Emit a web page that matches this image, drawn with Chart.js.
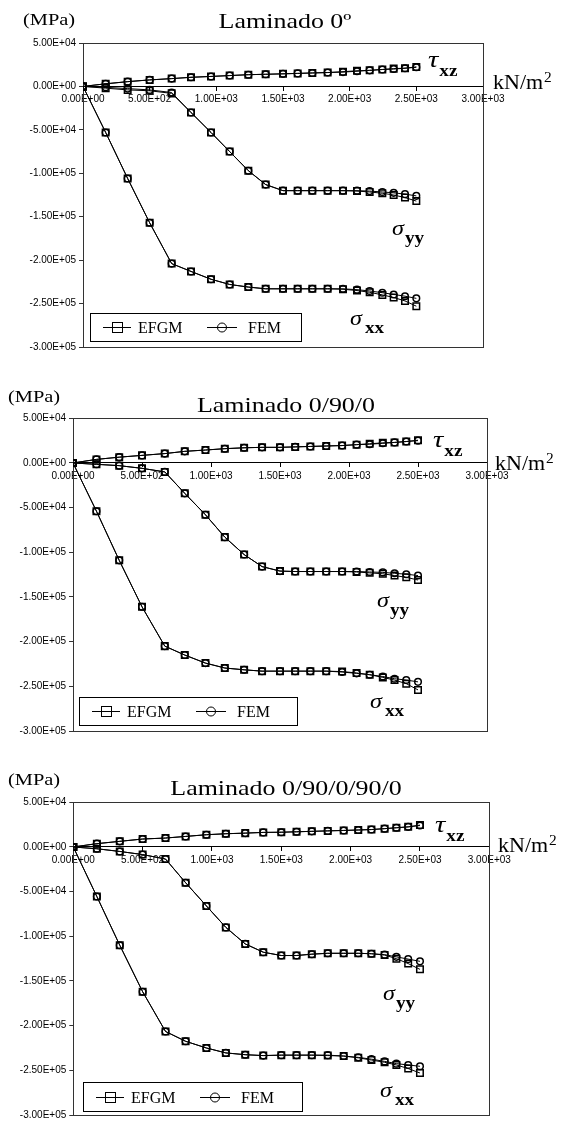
<!DOCTYPE html>
<html>
<head>
<meta charset="utf-8">
<script src="https://cdn.jsdelivr.net/npm/chart.js@4.4.0/dist/chart.umd.min.js"></script>
<style>
    body { margin: 0; background: #fff; }
    canvas { position: absolute; left: 0; }
</style>
</head>
<body>
<canvas id="c1" width="561" height="357" style="top:0px"></canvas>
<canvas id="c2" width="561" height="383" style="top:357px"></canvas>
<canvas id="c3" width="561" height="384" style="top:740px"></canvas>
<script>
// --- Data ---

// applied load (kN/m2), same steps for the three laminates
const loadSteps = [0, 170, 335, 500, 665, 810, 960, 1100, 1240, 1370, 1500, 1610, 1720, 1835, 1950, 2055, 2150, 2245, 2330, 2415, 2500];

const xTickLabels = ['0.00E+00', '5.00E+02', '1.00E+03', '1.50E+03', '2.00E+03', '2.50E+03', '3.00E+03'];
const yTickLabels = ['-3.00E+05', '-2.50E+05', '-2.00E+05', '-1.50E+05', '-1.00E+05', '-5.00E+04', '0.00E+00', '5.00E+04'];

const chartTitles = ['Laminado 0º', 'Laminado 0/90/0', 'Laminado 0/90/0/90/0'];
const legendLabels = ['EFGM', 'FEM'];

// Laminado 0º
const sxxEfgm1 = [0, -53000, -106000, -157000, -204000, -213000, -222000, -228000, -231000, -233000, -233000, -233000, -233000, -233000, -233500, -235000, -237000, -240000, -243000, -247000, -253000];
const sxxFem1 = [0, -53000, -106000, -157000, -204000, -213000, -222000, -228000, -231000, -233000, -233000, -233000, -233000, -233000, -233000, -234000, -235500, -237500, -239500, -241500, -244000];
const syyEfgm1 = [0, -2000, -4000, -5000, -8000, -30000, -53000, -75000, -97000, -113000, -120000, -120000, -120000, -120000, -120000, -120500, -121500, -123000, -125000, -128000, -132000];
const syyFem1 = [0, -1000, -2500, -4000, -7000, -30000, -53000, -75000, -97000, -113000, -120000, -120000, -120000, -120000, -120000, -120000, -120500, -121500, -122500, -124000, -126000];
const txzEfgm1 = [0, 3000, 5500, 7500, 9000, 10500, 11500, 12500, 13500, 14000, 14500, 15000, 15500, 16000, 17000, 18000, 18500, 19500, 20500, 21000, 22500];
const txzFem1 = [0, 3000, 5500, 7500, 9000, 10500, 11500, 12500, 13500, 14000, 14500, 15000, 15500, 16000, 16500, 17500, 18500, 19500, 20000, 21000, 22000];

// Laminado 0/90/0
const sxxEfgm2 = [0, -54000, -109000, -161000, -205000, -215000, -224000, -229500, -231500, -233000, -233000, -233000, -233000, -233000, -233500, -235000, -237000, -240000, -243000, -247000, -254000];
const sxxFem2 = [0, -54000, -109000, -161000, -205000, -215000, -224000, -229500, -231500, -233000, -233000, -233000, -233000, -233000, -234000, -235500, -237000, -239000, -241500, -243000, -245000];
const syyEfgm2 = [0, -1500, -3000, -6000, -10000, -34000, -58000, -83000, -102500, -116000, -121000, -121500, -121500, -121500, -121500, -122000, -123000, -124000, -126000, -128000, -131000];
const syyFem2 = [0, -1500, -3000, -6000, -10000, -34000, -58000, -83000, -102500, -116000, -121000, -121500, -121500, -121500, -121500, -121500, -122000, -122500, -123500, -124500, -126000];
const txzEfgm2 = [0, 4000, 6500, 8500, 10500, 13000, 14500, 16000, 17000, 17500, 17500, 18000, 18500, 19000, 19500, 20500, 21500, 22500, 23000, 24000, 25500];
const txzFem2 = [0, 4000, 6500, 8500, 10500, 13000, 14500, 16000, 17000, 17500, 17500, 18000, 18500, 19000, 19500, 20500, 21000, 22000, 23000, 24000, 25000];

// Laminado 0/90/0/90/0
const sxxEfgm3 = [0, -55500, -110000, -162000, -206500, -217500, -225000, -230500, -232500, -233500, -233000, -233000, -233000, -233500, -234000, -236000, -238500, -241000, -244000, -248000, -253000];
const sxxFem3 = [0, -55500, -110000, -162000, -206500, -217500, -225000, -230500, -232500, -233500, -233000, -233000, -233000, -233000, -234000, -235500, -237500, -240000, -242500, -244000, -245500];
const syyEfgm3 = [0, -2000, -5000, -8500, -13500, -40000, -66000, -90000, -108500, -117800, -121500, -121500, -120000, -119000, -119000, -119000, -119500, -121000, -125000, -130500, -137000];
const syyFem3 = [0, -2000, -5000, -8500, -13500, -40000, -66000, -90000, -108500, -117800, -121500, -121500, -120000, -119000, -119000, -119000, -119500, -120500, -123000, -125500, -128000];
const txzEfgm3 = [0, 3700, 6300, 8900, 10000, 11800, 13700, 14800, 15500, 16300, 16500, 17000, 17500, 18000, 18500, 19000, 19500, 20500, 21500, 22500, 24500];
const txzFem3 = [0, 3700, 6300, 8900, 10000, 11800, 13700, 14800, 15500, 16300, 16500, 17000, 17500, 18000, 18500, 19000, 19500, 20500, 21500, 22500, 24000];

// --- Layout of each panel (canvas coordinates) ---

const panels = [
    {
        id: 'c1', title: chartTitles[0],
        series: [sxxEfgm1, sxxFem1, syyEfgm1, syyFem1, txzEfgm1, txzFem1],
        pad: { left: 0, top: 43, right: 78, bottom: 10 }, axisW: 83,
        titlePos: [285, 28], mpaPos: [23, 25], unitPos: [493, 89],
        tauPos: [428, 67], syyPos: [392, 235], sxxPos: [350, 325], legendBox: [90, 313, 211, 28],
    },
    {
        id: 'c2', title: chartTitles[1],
        series: [sxxEfgm2, sxxFem2, syyEfgm2, syyFem2, txzEfgm2, txzFem2],
        pad: { left: 0, top: 61.3, right: 74, bottom: 7.3 }, axisW: 73,
        titlePos: [286, 55], mpaPos: [8, 45], unitPos: [495, 113],
        tauPos: [433, 90], syyPos: [377, 250], sxxPos: [370, 351], legendBox: [79, 340, 218, 28],
    },
    {
        id: 'c3', title: chartTitles[2],
        series: [sxxEfgm3, sxxFem3, syyEfgm3, syyFem3, txzEfgm3, txzFem3],
        pad: { left: 0, top: 62.3, right: 71.7, bottom: 7.3 }, axisW: 73.3,
        titlePos: [286, 55], mpaPos: [8, 45], unitPos: [498, 112],
        tauPos: [435, 92], syyPos: [383, 260], sxxPos: [380, 357], legendBox: [83, 342, 219, 29],
    },
];

const SERIF = "'Liberation Serif', 'Times New Roman', serif";
const SANS = "'Liberation Sans', Arial, sans-serif";

function makeDataset(label, values) {
    const isEfgm = label === legendLabels[0];
    return {
        label: label,
        data: loadSteps.map((x, i) => ({ x: x, y: values[i] })),
        borderColor: '#000',
        borderWidth: 1,
        pointStyle: isEfgm ? 'rect' : 'circle',
        pointRadius: isEfgm ? 4.6 : 3.3,
        pointBorderColor: '#000',
        pointBorderWidth: 1.5,
        pointBackgroundColor: 'rgba(0,0,0,0)',
        tension: 0,
        fill: false,
    };
}

// draw text with a small horizontal stretch (the original figure is stretched)
function drawText(ctx, str, x, y, font, sx, align) {
    ctx.save();
    ctx.translate(x, y);
    ctx.scale(sx || 1, 1);
    ctx.font = font;
    ctx.fillStyle = '#000';
    ctx.textAlign = align || 'left';
    ctx.textBaseline = 'alphabetic';
    ctx.fillText(str, 0, 0);
    const w = ctx.measureText(str).width * (sx || 1);
    ctx.restore();
    return w;
}

// --- Plugin: plot frame, labels and legend box ---

const decorations = {
    id: 'decorations',
    beforeDatasetsDraw(chart) {
        const ctx = chart.ctx;
        const a = chart.chartArea;
        ctx.save();
        ctx.strokeStyle = '#333';
        ctx.lineWidth = 1;
        ctx.strokeRect(Math.round(a.left) + 0.5, Math.round(a.top) + 0.5,
            Math.round(a.right - a.left), Math.round(a.bottom - a.top));
        ctx.restore();
    },
    afterDraw(chart) {
        const p = chart.options.plugins.decorations.panel;
        const ctx = chart.ctx;

        drawText(ctx, p.title, p.titlePos[0], p.titlePos[1], '22px ' + SERIF, 1.18, 'center');
        drawText(ctx, '(MPa)', p.mpaPos[0], p.mpaPos[1], '17px ' + SERIF, 1.2);

        // kN/m2
        let w = drawText(ctx, 'kN/m', p.unitPos[0], p.unitPos[1], '20px ' + SERIF, 1.1);
        drawText(ctx, '2', p.unitPos[0] + w + 1, p.unitPos[1] - 7, '14px ' + SERIF, 1.1);

        // series names
        w = drawText(ctx, 'τ', p.tauPos[0], p.tauPos[1], 'italic 24px ' + SERIF, 1.2);
        drawText(ctx, 'xz', p.tauPos[0] + w + 1, p.tauPos[1] + 9, 'bold 16px ' + SERIF, 1.2);
        w = drawText(ctx, 'σ', p.syyPos[0], p.syyPos[1], 'italic 22px ' + SERIF, 1.1);
        drawText(ctx, 'yy', p.syyPos[0] + w + 1, p.syyPos[1] + 8, 'bold 16px ' + SERIF, 1.2);
        w = drawText(ctx, 'σ', p.sxxPos[0], p.sxxPos[1], 'italic 22px ' + SERIF, 1.1);
        drawText(ctx, 'xx', p.sxxPos[0] + w + 3, p.sxxPos[1] + 8, 'bold 16px ' + SERIF, 1.2);

        // legend box
        const [lx, ly, lw, lh] = p.legendBox;
        const my = Math.round(ly + lh / 2) + 0.5;
        ctx.save();
        ctx.fillStyle = '#fff';
        ctx.fillRect(lx, ly, lw, lh);
        ctx.strokeStyle = '#000';
        ctx.lineWidth = 1;
        ctx.strokeRect(lx + 0.5, ly + 0.5, lw, lh);
        ctx.beginPath();
        ctx.moveTo(lx + 13, my); ctx.lineTo(lx + 41, my);
        ctx.moveTo(lx + 117, my); ctx.lineTo(lx + 147, my);
        ctx.stroke();
        ctx.strokeRect(Math.round(lx + 22) + 0.5, my - 5, 10, 10);
        ctx.beginPath();
        ctx.arc(lx + 132, my, 4.5, 0, Math.PI * 2);
        ctx.stroke();
        ctx.restore();
        drawText(ctx, legendLabels[0], lx + 48, my + 5.5, '16px ' + SERIF, 1);
        drawText(ctx, legendLabels[1], lx + 158, my + 5.5, '16px ' + SERIF, 1);
    },
};

// --- Chart Rendering ---

function renderPanel(p) {
    const s = p.series;
    const datasets = [
        makeDataset('EFGM', s[0]), makeDataset('FEM', s[1]),
        makeDataset('EFGM', s[2]), makeDataset('FEM', s[3]),
        makeDataset('EFGM', s[4]), makeDataset('FEM', s[5]),
    ];

    new Chart(document.getElementById(p.id), {
        type: 'line',
        data: { datasets: datasets },
        plugins: [decorations],
        options: {
            responsive: false,
            animation: false,
            layout: { padding: p.pad },
            plugins: {
                legend: { display: false },
                title: { display: false },
                tooltip: { enabled: false },
                decorations: { panel: p },
            },
            scales: {
                x: {
                    type: 'linear',
                    min: 0,
                    max: 3000,
                    position: { y: 0 },
                    ticks: {
                        stepSize: 500,
                        autoSkip: false,
                        maxRotation: 0,
                        padding: 3,
                        color: '#000',
                        font: { family: SANS, size: 10 },
                        callback: (v, i) => xTickLabels[i],
                    },
                    grid: { drawOnChartArea: false, tickLength: 4, color: '#000' },
                    border: { color: '#000', width: 1 },
                },
                y: {
                    type: 'linear',
                    min: -300000,
                    max: 50000,
                    position: 'left',
                    afterFit: (scale) => { scale.width = p.axisW; },
                    ticks: {
                        stepSize: 50000,
                        padding: 3,
                        color: '#000',
                        font: { family: SANS, size: 10 },
                        callback: (v, i) => yTickLabels[i],
                    },
                    grid: { drawOnChartArea: false, tickLength: 4, color: '#333' },
                    border: { color: '#333', width: 1 },
                },
            },
        },
    });
}

panels.forEach(renderPanel);
</script>
</body>
</html>
